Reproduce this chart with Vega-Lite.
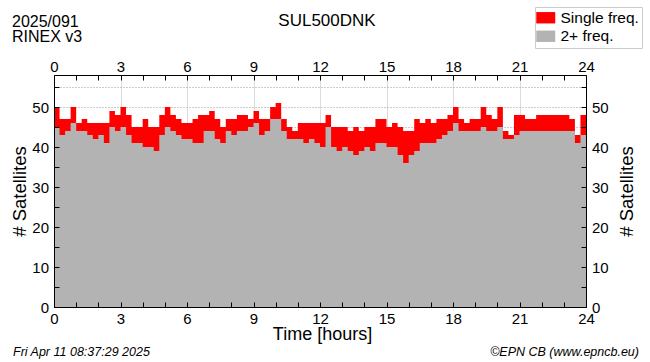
{
  "$schema": "https://vega.github.io/schema/vega-lite/v6.json",
  "width": 532,
  "height": 232,
  "autosize": {"type": "none"},
  "padding": {"left": 54, "top": 75, "right": 64, "bottom": 55},
  "background": "white",
  "config": {
    "font": "Liberation Sans",
    "view": {"stroke": null},
    "axis": {"domainColor": "black", "domainWidth": 1, "tickColor": "black", "labelColor": "black", "titleColor": "black", "titleFontWeight": "normal", "labelFont": "Liberation Sans", "titleFont": "Liberation Sans"}
  },
  "data": {
    "values": [
      {"h": 0, "total": 50, "dual": 45}, {"h": 0.25, "total": 47, "dual": 43}, {"h": 0.5, "total": 47, "dual": 44}, {"h": 0.75, "total": 50, "dual": 46},
      {"h": 1, "total": 46, "dual": 44}, {"h": 1.25, "total": 47, "dual": 44}, {"h": 1.5, "total": 46, "dual": 43}, {"h": 1.75, "total": 46, "dual": 42},
      {"h": 2, "total": 46, "dual": 43}, {"h": 2.25, "total": 46, "dual": 41}, {"h": 2.5, "total": 49, "dual": 45}, {"h": 2.75, "total": 48, "dual": 44},
      {"h": 3, "total": 50, "dual": 45}, {"h": 3.25, "total": 48, "dual": 43}, {"h": 3.5, "total": 45, "dual": 41}, {"h": 3.75, "total": 45, "dual": 41},
      {"h": 4, "total": 47, "dual": 40}, {"h": 4.25, "total": 45, "dual": 40}, {"h": 4.5, "total": 45, "dual": 39}, {"h": 4.75, "total": 48, "dual": 43},
      {"h": 5, "total": 50, "dual": 45}, {"h": 5.25, "total": 48, "dual": 44}, {"h": 5.5, "total": 47, "dual": 43}, {"h": 5.75, "total": 46, "dual": 42},
      {"h": 6, "total": 46, "dual": 42}, {"h": 6.25, "total": 47, "dual": 41}, {"h": 6.5, "total": 48, "dual": 41}, {"h": 6.75, "total": 48, "dual": 44},
      {"h": 7, "total": 49, "dual": 44}, {"h": 7.25, "total": 47, "dual": 42}, {"h": 7.5, "total": 45, "dual": 41}, {"h": 7.75, "total": 47, "dual": 44},
      {"h": 8, "total": 47, "dual": 43}, {"h": 8.25, "total": 48, "dual": 44}, {"h": 8.5, "total": 48, "dual": 44}, {"h": 8.75, "total": 47, "dual": 45},
      {"h": 9, "total": 49, "dual": 46}, {"h": 9.25, "total": 47, "dual": 43}, {"h": 9.5, "total": 47, "dual": 44}, {"h": 9.75, "total": 50, "dual": 47},
      {"h": 10, "total": 51, "dual": 47}, {"h": 10.25, "total": 47, "dual": 44}, {"h": 10.5, "total": 45, "dual": 42}, {"h": 10.75, "total": 44, "dual": 42},
      {"h": 11, "total": 46, "dual": 42}, {"h": 11.25, "total": 46, "dual": 41}, {"h": 11.5, "total": 46, "dual": 42}, {"h": 11.75, "total": 46, "dual": 41},
      {"h": 12, "total": 46, "dual": 40}, {"h": 12.25, "total": 48, "dual": 45}, {"h": 12.5, "total": 45, "dual": 40}, {"h": 12.75, "total": 45, "dual": 39},
      {"h": 13, "total": 45, "dual": 40}, {"h": 13.25, "total": 44, "dual": 39}, {"h": 13.5, "total": 45, "dual": 38}, {"h": 13.75, "total": 44, "dual": 39},
      {"h": 14, "total": 45, "dual": 40}, {"h": 14.25, "total": 45, "dual": 39}, {"h": 14.5, "total": 47, "dual": 41}, {"h": 14.75, "total": 47, "dual": 41},
      {"h": 15, "total": 45, "dual": 40}, {"h": 15.25, "total": 46, "dual": 40}, {"h": 15.5, "total": 45, "dual": 38}, {"h": 15.75, "total": 44, "dual": 36},
      {"h": 16, "total": 44, "dual": 38}, {"h": 16.25, "total": 47, "dual": 39}, {"h": 16.5, "total": 46, "dual": 41}, {"h": 16.75, "total": 47, "dual": 41},
      {"h": 17, "total": 46, "dual": 41}, {"h": 17.25, "total": 47, "dual": 42}, {"h": 17.5, "total": 47, "dual": 43}, {"h": 17.75, "total": 48, "dual": 44},
      {"h": 18, "total": 50, "dual": 46}, {"h": 18.25, "total": 47, "dual": 44}, {"h": 18.5, "total": 46, "dual": 44}, {"h": 18.75, "total": 47, "dual": 44},
      {"h": 19, "total": 47, "dual": 44}, {"h": 19.25, "total": 50, "dual": 45}, {"h": 19.5, "total": 48, "dual": 44}, {"h": 19.75, "total": 47, "dual": 44},
      {"h": 20, "total": 50, "dual": 45}, {"h": 20.25, "total": 44, "dual": 42}, {"h": 20.5, "total": 43, "dual": 42}, {"h": 20.75, "total": 48, "dual": 43},
      {"h": 21, "total": 48, "dual": 44}, {"h": 21.25, "total": 47, "dual": 44}, {"h": 21.5, "total": 47, "dual": 44}, {"h": 21.75, "total": 48, "dual": 44},
      {"h": 22, "total": 48, "dual": 44}, {"h": 22.25, "total": 48, "dual": 44}, {"h": 22.5, "total": 48, "dual": 44}, {"h": 22.75, "total": 48, "dual": 44},
      {"h": 23, "total": 48, "dual": 44}, {"h": 23.25, "total": 47, "dual": 44}, {"h": 23.5, "total": 43, "dual": 41}, {"h": 23.75, "total": 48, "dual": 43},
      {"h": 24, "total": 48, "dual": 43}
    ]
  },
  "layer": [
    {
      "mark": {"type": "area", "interpolate": "step-after", "opacity": 1},
      "encoding": {
        "x": {
          "field": "h", "type": "quantitative",
          "scale": {"domain": [0, 24], "nice": false, "zero": false},
          "axis": {
            "orient": "bottom",
            "values": [0, 3, 6, 9, 12, 15, 18, 21, 24],
            "labels": false, "ticks": false, "domain": false, "title": null,
            "grid": true, "gridColor": "#dcdcdc", "zindex": 0
          }
        },
        "y": {
          "field": "total", "type": "quantitative", "stack": null,
          "scale": {"domain": [0, 58], "nice": false},
          "axis": {
            "orient": "left",
            "values": [0, 5, 10, 15, 20, 25, 30, 35, 40, 45, 50, 55],
            "labels": false, "ticks": false, "domain": false, "title": null,
            "grid": true, "gridDash": [1, 2], "gridColor": "#9a9a9a", "zindex": 0
          }
        },
        "color": {
          "datum": "Single freq.", "type": "nominal",
          "scale": {"domain": ["Single freq.", "2+ freq."], "range": ["#ff0000", "#b3b3b3"]},
          "legend": {
            "title": null, "orient": "none", "legendX": 481, "legendY": -68,
            "symbolType": "M-1.5,-0.9H1.5V0.9H-1.5Z", "symbolSize": 160, "symbolStrokeWidth": 0, "symbolOpacity": 1,
            "labelFontSize": 15.5, "labelFont": "Liberation Sans", "labelColor": "black", "labelOffset": 7,
            "rowPadding": 1.5, "padding": 3, "strokeColor": "#cccccc", "fillColor": "white", "cornerRadius": 0
          }
        }
      }
    },
    {
      "mark": {"type": "area", "interpolate": "step-after", "opacity": 1},
      "encoding": {
        "x": {
          "field": "h", "type": "quantitative",
          "axis": {
            "orient": "bottom",
            "values": [0, 1, 2, 3, 4, 5, 6, 7, 8, 9, 10, 11, 12, 13, 14, 15, 16, 17, 18, 19, 20, 21, 22, 23, 24],
            "labelExpr": "datum.value % 3 === 0 ? datum.label : ''",
            "labelFontSize": 15, "labelPadding": 9, "labelFlush": false, "labelOverlap": false,
            "tickSize": -5, "grid": false,
            "title": "Time [hours]", "titleFontSize": 18, "titleX": 268, "titleY": 32,
            "titleAlign": "center", "titleBaseline": "alphabetic",
            "zindex": 1
          }
        },
        "y": {
          "field": "dual", "type": "quantitative", "stack": null,
          "axis": {
            "orient": "left",
            "values": [0, 5, 10, 15, 20, 25, 30, 35, 40, 45, 50, 55],
            "labelExpr": "datum.value % 10 === 0 ? datum.label : ''",
            "labelFontSize": 15, "labelPadding": 10.5, "labelFlush": false, "labelOverlap": false,
            "tickSize": -5, "grid": false,
            "title": "# Satellites", "titleFontSize": 18.5, "titleX": -29, "titleY": 116,
            "titleAngle": -90, "titleAlign": "center", "titleBaseline": "alphabetic",
            "zindex": 1
          }
        },
        "color": {"datum": "2+ freq.", "type": "nominal"}
      }
    },
    {
      "data": {"values": [{}]},
      "mark": {"type": "text", "text": "SUL500DNK", "dx": 7, "dy": -49, "align": "center", "baseline": "alphabetic", "fontSize": 17, "color": "black"},
      "encoding": {
        "x": {
          "datum": 12, "type": "quantitative",
          "axis": {
            "orient": "top",
            "values": [0, 1, 2, 3, 4, 5, 6, 7, 8, 9, 10, 11, 12, 13, 14, 15, 16, 17, 18, 19, 20, 21, 22, 23, 24],
            "labelExpr": "datum.value % 3 === 0 ? datum.label : ''",
            "labelFontSize": 15, "labelPadding": 6, "labelFlush": false, "labelOverlap": false,
            "tickSize": -5, "grid": false, "title": null, "zindex": 1
          }
        },
        "y": {
          "datum": 58, "type": "quantitative",
          "axis": {
            "orient": "right",
            "values": [0, 5, 10, 15, 20, 25, 30, 35, 40, 45, 50, 55],
            "labelExpr": "datum.value % 10 === 0 ? datum.label : ''",
            "labelFontSize": 15, "labelPadding": 10.5, "labelFlush": false, "labelOverlap": false,
            "tickSize": -5, "grid": false,
            "title": "# Satellites", "titleFontSize": 18.5, "titleX": 46, "titleY": 116,
            "titleAngle": -90, "titleAlign": "center", "titleBaseline": "alphabetic",
            "zindex": 1
          }
        }
      }
    },
    {
      "data": {"values": [{}]},
      "mark": {"type": "text", "text": ["2025/091", "RINEX v3"], "x": -42, "y": -48, "align": "left", "baseline": "alphabetic", "fontSize": 16, "lineHeight": 15, "color": "black"},
      "encoding": {}
    },
    {
      "data": {"values": [{}]},
      "mark": {"type": "text", "text": "Fri Apr 11 08:37:29 2025", "x": -41, "y": 281, "align": "left", "baseline": "alphabetic", "fontSize": 12.5, "fontStyle": "italic", "color": "black"},
      "encoding": {}
    },
    {
      "data": {"values": [{}]},
      "mark": {"type": "text", "text": "©EPN CB (www.epncb.eu)", "x": 585, "y": 281, "align": "right", "baseline": "alphabetic", "fontSize": 12.5, "fontStyle": "italic", "color": "black"},
      "encoding": {}
    }
  ],
  "resolve": {"axis": {"x": "independent", "y": "independent"}}
}
